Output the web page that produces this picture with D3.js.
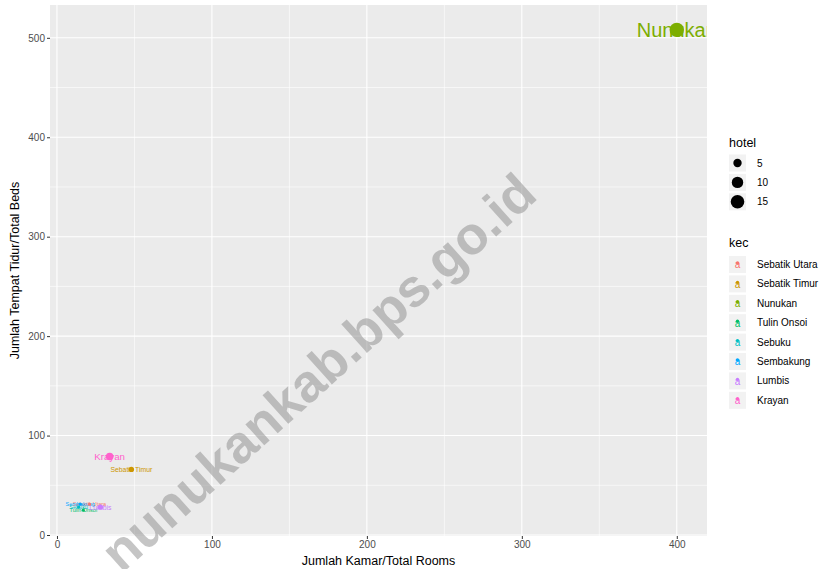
<!DOCTYPE html>
<html>
<head>
<meta charset="utf-8">
<script src="https://cdn.jsdelivr.net/npm/d3@7"></script>
<style>
  body { margin: 0; background: #fff; }
  text { font-family: "Liberation Sans", Arial, sans-serif; }
</style>
</head>
<body>
<div id="chart"></div>
<script>
// data
var kec = ["Sebatik Utara", "Sebatik Timur", "Nunukan", "Tulin Onsoi", "Sebuku", "Sembakung", "Lumbis", "Krayan"];
var rooms = [21, 48, 400, 17, 14, 15, 28, 34];
var beds = [31, 66, 508, 25, 28, 31, 28, 79];
var hotel = [1, 2, 17, 1, 1, 1, 2, 4];
var colors = ["#F8766D", "#CD9600", "#7CAE00", "#00BE67", "#00BFC4", "#00A9FF", "#C77CFF", "#FF61CC"];
var xTicks = [0, 100, 200, 300, 400];
var yTicks = [0, 100, 200, 300, 400, 500];
var sizeBreaks = [5, 10, 15];

var data = kec.map(function (k, i) {
    return { kec: k, rooms: rooms[i], beds: beds[i], hotel: hotel[i], color: colors[i] };
});

var width = 833, height = 569;
var panel = { left: 50, right: 707, top: 5, bottom: 536 };

var svg = d3.select("#chart")
    .append("svg")
    .attr("width", width)
    .attr("height", height);

// scales
var xScale = d3.scaleLinear().domain([-4.5, 419.5]).range([panel.left, panel.right]);
var yScale = d3.scaleLinear().domain([-1, 533]).range([panel.bottom, panel.top]);
// size like ggplot's area scale: rescale hotel, take sqrt, map to size range
var hotelRange = d3.scaleLinear().domain(d3.extent(hotel)).range([0, 1]);
var sizeRange = d3.scaleLinear().domain([0, 1]).range([1, 6]);
function rScale(v) { return 1.2 * sizeRange(Math.sqrt(hotelRange(v))); }
var fScale = d3.scaleSqrt().domain([0, 17]).range([0, 20]);

// panel background
svg.append("rect")
    .attr("x", panel.left)
    .attr("y", panel.top)
    .attr("width", panel.right - panel.left)
    .attr("height", panel.bottom - panel.top)
    .attr("fill", "#EBEBEB");

// grid lines (minor then major)
var xMinor = [50, 150, 250, 350];
var yMinor = [50, 150, 250, 350, 450];
var grid = svg.append("g");
grid.selectAll(".xminor").data(xMinor).enter().append("line")
    .attr("x1", function (d) { return xScale(d); }).attr("x2", function (d) { return xScale(d); })
    .attr("y1", panel.top).attr("y2", panel.bottom)
    .attr("stroke", "#fff").attr("stroke-width", 0.6);
grid.selectAll(".yminor").data(yMinor).enter().append("line")
    .attr("y1", function (d) { return yScale(d); }).attr("y2", function (d) { return yScale(d); })
    .attr("x1", panel.left).attr("x2", panel.right)
    .attr("stroke", "#fff").attr("stroke-width", 0.6);
grid.selectAll(".xmajor").data(xTicks).enter().append("line")
    .attr("x1", function (d) { return xScale(d); }).attr("x2", function (d) { return xScale(d); })
    .attr("y1", panel.top).attr("y2", panel.bottom)
    .attr("stroke", "#fff").attr("stroke-width", 1.1);
grid.selectAll(".ymajor").data(yTicks).enter().append("line")
    .attr("y1", function (d) { return yScale(d); }).attr("y2", function (d) { return yScale(d); })
    .attr("x1", panel.left).attr("x2", panel.right)
    .attr("stroke", "#fff").attr("stroke-width", 1.1);

// axes
var xAxis = svg.append("g")
    .attr("transform", "translate(0," + panel.bottom + ")")
    .call(d3.axisBottom(xScale).tickValues(xTicks).tickSize(3).tickPadding(2));
var yAxis = svg.append("g")
    .attr("transform", "translate(" + panel.left + ",0)")
    .call(d3.axisLeft(yScale).tickValues(yTicks).tickSize(3).tickPadding(2));
[xAxis, yAxis].forEach(function (a) {
    a.select(".domain").remove();
    a.selectAll(".tick line").attr("stroke", "#333").attr("stroke-width", 1);
    a.selectAll(".tick text").attr("fill", "#4D4D4D").style("font-size", "10px")
        .style("font-family", "'Liberation Sans', Arial, sans-serif");
});

// clip for marks
svg.append("clipPath").attr("id", "clip")
    .append("rect")
    .attr("x", panel.left).attr("y", panel.top)
    .attr("width", panel.right - panel.left).attr("height", panel.bottom - panel.top);

var marks = svg.append("g").attr("clip-path", "url(#clip)");

// text labels
marks.selectAll(".lbl")
    .data(data)
    .enter()
    .append("text")
    .attr("x", function (d) { return xScale(d.rooms); })
    .attr("y", function (d) { return yScale(d.beds); })
    .attr("dy", "0.35em")
    .attr("text-anchor", "middle")
    .attr("fill", function (d) { return d.color; })
    .style("font-size", function (d) { return Math.max(5.5, fScale(d.hotel)) + "px"; })
    .text(function (d) { return d.kec; });

// points
marks.selectAll(".pt")
    .data(data)
    .enter()
    .append("circle")
    .attr("cx", function (d) { return xScale(d.rooms); })
    .attr("cy", function (d) { return yScale(d.beds); })
    .attr("r", function (d) { return Math.max(1.6, rScale(d.hotel)); })
    .attr("fill", function (d) { return d.color; });

// axis titles
svg.append("text")
    .attr("x", (panel.left + panel.right) / 2)
    .attr("y", 565)
    .attr("text-anchor", "middle")
    .style("font-size", "12.5px")
    .text("Jumlah Kamar/Total Rooms");

svg.append("text")
    .attr("transform", "translate(19," + ((panel.top + panel.bottom) / 2) + ") rotate(-90)")
    .attr("text-anchor", "middle")
    .style("font-size", "12.5px")
    .text("Jumlah Tempat Tidur/Total Beds");

// legend: hotel
var lx = 729, keyW = 17, step = 19.4;
svg.append("text").attr("x", lx).attr("y", 147).style("font-size", "12.5px").text("hotel");
var sizeLeg = svg.append("g").selectAll("g")
    .data(sizeBreaks)
    .enter()
    .append("g")
    .attr("transform", function (d, i) { return "translate(" + lx + "," + (163 + i * step) + ")"; });
sizeLeg.append("rect")
    .attr("x", 0).attr("y", -keyW / 2).attr("width", keyW).attr("height", keyW)
    .attr("fill", "#F2F2F2");
sizeLeg.append("circle")
    .attr("cx", keyW / 2).attr("cy", 0)
    .attr("r", function (d) { return rScale(d); })
    .attr("fill", "#000");
sizeLeg.append("text")
    .attr("x", 28).attr("dy", "0.35em")
    .style("font-size", "10px")
    .text(function (d) { return d; });

// legend: kec
svg.append("text").attr("x", lx).attr("y", 247).style("font-size", "12.5px").text("kec");
var kecLeg = svg.append("g").selectAll("g")
    .data(data)
    .enter()
    .append("g")
    .attr("transform", function (d, i) { return "translate(" + lx + "," + (264.5 + i * step) + ")"; });
kecLeg.append("rect")
    .attr("x", 0).attr("y", -keyW / 2).attr("width", keyW).attr("height", keyW)
    .attr("fill", "#F2F2F2");
kecLeg.append("text")
    .attr("x", keyW / 2).attr("dy", "0.38em")
    .attr("text-anchor", "middle")
    .attr("fill", function (d) { return d.color; })
    .style("font-size", "10px")
    .text("a");
kecLeg.append("circle")
    .attr("cx", keyW / 2).attr("cy", -1.5)
    .attr("r", 1.7)
    .attr("fill", function (d) { return d.color; });
kecLeg.append("text")
    .attr("x", 28).attr("dy", "0.35em")
    .style("font-size", "10px")
    .text(function (d) { return d.kec; });

// watermark
svg.append("text")
    .attr("transform", "translate(318,372) rotate(-42)")
    .attr("text-anchor", "middle")
    .attr("dy", "0.35em")
    .attr("fill", "#8c8c8c")
    .attr("opacity", 0.5)
    .style("font-size", "53px")
    .style("font-weight", "bold")
    .text("nunukankab.bps.go.id");
</script>
</body>
</html>
